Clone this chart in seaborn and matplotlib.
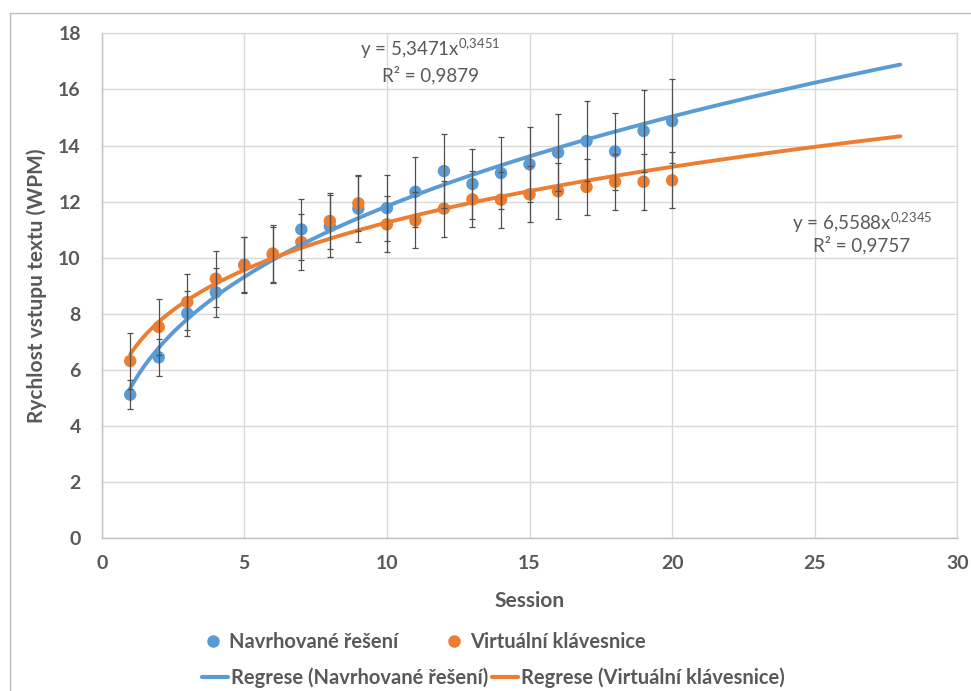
import numpy as np
import pandas as pd
import matplotlib
matplotlib.use("Agg")
import matplotlib.pyplot as plt
from matplotlib.lines import Line2D
import seaborn as sns

# ---- data ----
sessions = list(range(1, 21))
navrhovane = [5.12, 6.45, 8.02, 8.77, 9.75, 10.10, 11.01, 11.12, 11.75, 11.77,
              12.35, 13.09, 12.63, 13.02, 13.33, 13.75, 14.16, 13.79, 14.52, 14.87]
navrhovane_err = [0.51, 0.65, 0.80, 0.88, 0.98, 1.01, 1.10, 1.11, 1.18, 1.18,
                  1.24, 1.31, 1.26, 1.30, 1.33, 1.38, 1.42, 1.38, 1.45, 1.49]
virtualni = [6.32, 7.53, 8.42, 9.25, 9.73, 10.15, 10.56, 11.31, 11.94, 11.19,
             11.33, 11.75, 12.08, 12.07, 12.26, 12.37, 12.52, 12.71, 12.71, 12.76]
virtualni_err = [1.0] * 20

# power trendlines shown on the chart: y = a * x^b
coef_a_nav, coef_b_nav, r2_nav = 5.3471, 0.3451, 0.9879
coef_a_vir, coef_b_vir, r2_vir = 6.5588, 0.2345, 0.9757
trend_start, trend_end = 1, 28

label_nav = "Navrhované řešení"
label_vir = "Virtuální klávesnice"
label_reg_nav = "Regrese (Navrhované řešení)"
label_reg_vir = "Regrese (Virtuální klávesnice)"
xlabel = "Session"
ylabel = "Rychlost vstupu textu (WPM)"

BLUE = "#5B9BD5"
ORANGE = "#ED7D31"
TXT = "#595959"

sns.set_style("white")
plt.rcParams["font.family"] = ["Lato", "DejaVu Sans"]
plt.rcParams["mathtext.fontset"] = "custom"
plt.rcParams["mathtext.rm"] = "Lato"

fig = plt.figure(figsize=(9.71, 6.91), dpi=100)
W, H = 971, 691
ax = fig.add_axes([101.7 / W, 1 - 538.3 / H, (957.3 - 101.7) / W, (538.3 - 33.3) / H])

df = pd.DataFrame({
    "Session": sessions * 2,
    "WPM": navrhovane + virtualni,
    "err": navrhovane_err + virtualni_err,
    "serie": [label_nav] * 20 + [label_vir] * 20,
})

xs = np.linspace(trend_start, trend_end, 300)
trend = pd.DataFrame({
    "Session": np.concatenate([xs, xs]),
    "WPM": np.concatenate([coef_a_nav * xs ** coef_b_nav, coef_a_vir * xs ** coef_b_vir]),
    "serie": [label_reg_nav] * len(xs) + [label_reg_vir] * len(xs),
})

sns.scatterplot(data=df, x="Session", y="WPM", hue="serie",
                palette={label_nav: BLUE, label_vir: ORANGE},
                s=80, edgecolor="none", ax=ax, legend=False, zorder=3)
sns.lineplot(data=trend, x="Session", y="WPM", hue="serie",
             palette={label_reg_nav: BLUE, label_reg_vir: ORANGE},
             linewidth=2.8, ax=ax, legend=False, zorder=4)
for name in [label_nav, label_vir]:
    sub = df[df["serie"] == name]
    ax.errorbar(sub["Session"], sub["WPM"], yerr=sub["err"], fmt="none",
                ecolor="#505050", elinewidth=0.9, capsize=2.5, capthick=0.9, zorder=5)

ax.set_xlim(0, 30)
ax.set_ylim(0, 18)
ax.set_xticks(range(0, 31, 5))
ax.set_yticks(range(0, 19, 2))
ax.grid(True, color="#D9D9D9", linewidth=1.0)
ax.set_axisbelow(True)
for side in ["top", "right"]:
    ax.spines[side].set_color("#D9D9D9")
    ax.spines[side].set_linewidth(1.0)
for side in ["left", "bottom"]:
    ax.spines[side].set_color("#BFBFBF")
    ax.spines[side].set_linewidth(1.0)
ax.tick_params(length=0, labelsize=14, labelcolor=TXT)
ax.tick_params(axis="y", pad=15)
ax.tick_params(axis="x", pad=12)
for lab in ax.get_xticklabels() + ax.get_yticklabels():
    lab.set_fontweight("bold")
ax.set_xlabel(xlabel, fontsize=15, fontweight="bold", color=TXT, labelpad=14)
ax.set_ylabel(ylabel, fontsize=15, fontweight="bold", color=TXT, labelpad=8)

ax.text(11.52, 17.46, r"y = 5,3471x$^{\mathrm{0{,}3451}}$".replace("5,3471", f"{coef_a_nav:.4f}".replace(".", ",")),
        ha="center", va="center", fontsize=13.5, color=TXT)
ax.text(11.52, 16.5, f"R² = {r2_nav:.4f}".replace(".", ","), ha="center", va="center",
        fontsize=13.5, color=TXT)
ax.text(26.66, 11.26, r"y = 6,5588x$^{\mathrm{0{,}2345}}$".replace("6,5588", f"{coef_a_vir:.4f}".replace(".", ",")),
        ha="center", va="center", fontsize=13.5, color=TXT)
ax.text(26.66, 10.44, f"R² = {r2_vir:.4f}".replace(".", ","), ha="center", va="center",
        fontsize=13.5, color=TXT)

# legend entries placed like Excel's flowing legend
entries = [
    (Line2D([], [], marker="o", color=BLUE, linestyle="none", markersize=8), label_nav, 200, 642),
    (Line2D([], [], marker="o", color=ORANGE, linestyle="none", markersize=8), label_vir, 441, 642),
    (Line2D([], [], color=BLUE, linewidth=3), label_reg_nav, 202, 678),
    (Line2D([], [], color=ORANGE, linewidth=3), label_reg_vir, 492, 678),
]
for h, lab, px, py in entries:
    leg = fig.legend([h], [lab], loc="center left", bbox_to_anchor=(px / W, 1 - py / H),
                     frameon=False, handlelength=1.3, handletextpad=0.15, borderpad=0,
                     borderaxespad=0, prop={"weight": "bold", "size": 14.5})
    for t in leg.get_texts():
        t.set_color(TXT)

# chart area border
fig.add_artist(Line2D([10 / W, 1], [1 - 13 / H, 1 - 13 / H], transform=fig.transFigure,
                      color="#BFBFBF", linewidth=1.0))
fig.add_artist(Line2D([10 / W, 10 / W], [0, 1 - 13 / H], transform=fig.transFigure,
                      color="#BFBFBF", linewidth=1.0))

fig.savefig("out.png", dpi=100, facecolor="white")
